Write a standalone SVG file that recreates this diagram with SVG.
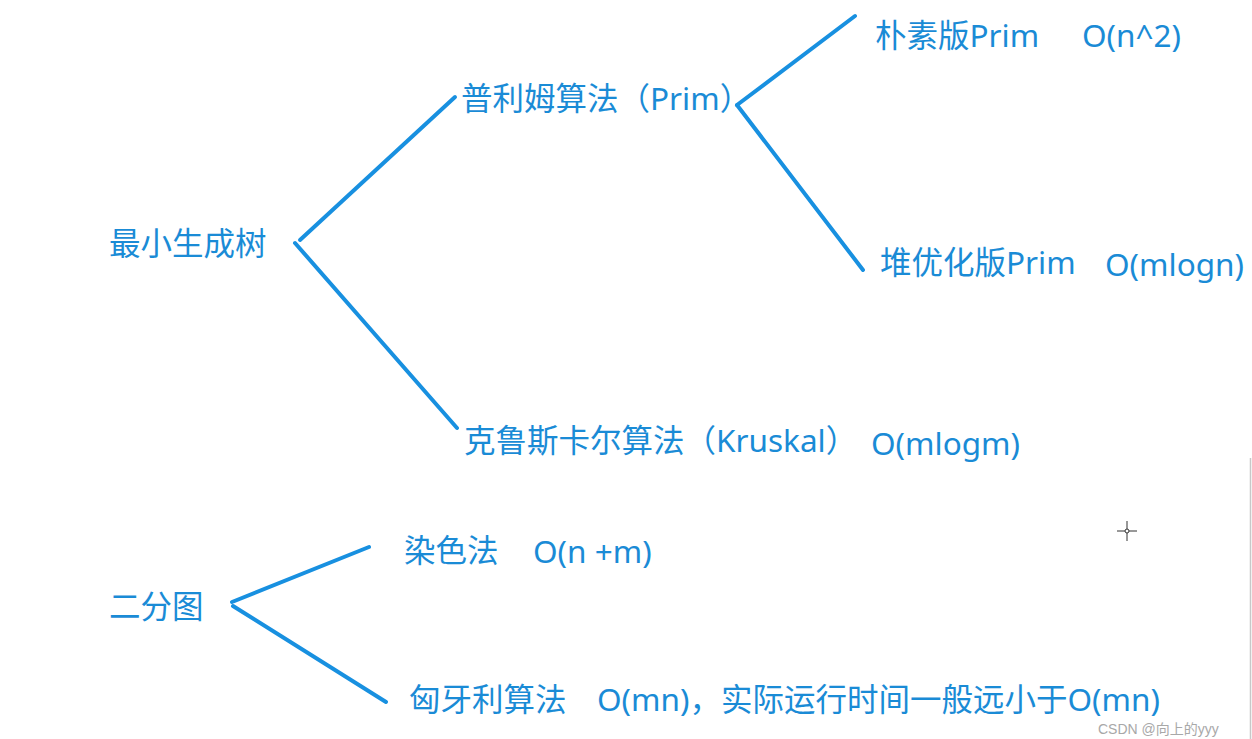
<svg xmlns="http://www.w3.org/2000/svg" width="1252" height="739" viewBox="0 0 1252 739">
<style>
.t{font-family:"Noto Sans","Noto Sans CJK SC",sans-serif;font-size:31.5px;fill:#1a8bd6}
.c{stroke:#1890e0;stroke-width:4;stroke-linecap:round;fill:none}
.w{font-family:"Liberation Sans","Noto Sans CJK SC",sans-serif;font-size:14px;fill:#a8a8a8}
</style>
<rect width="1252" height="739" fill="#ffffff"/>
<g id="connectors">
<line class="c" x1="300" y1="240" x2="455" y2="97"/>
<line class="c" x1="295" y1="243" x2="457" y2="428"/>
<line class="c" x1="737" y1="105" x2="855" y2="16"/>
<line class="c" x1="737" y1="105" x2="863" y2="270"/>
<line class="c" x1="232" y1="602" x2="369" y2="547"/>
<line class="c" x1="233" y1="606" x2="386" y2="702"/>
</g>
<g id="mst"><text class="t" x="109" y="255">最小生成树</text></g>
<g id="prim"><text class="t" x="461" y="110">普利姆算法（Prim）</text></g>
<g id="naive"><text class="t" x="875" y="47">朴素版Prim</text><text class="t" x="1082" y="47">O(n^2)</text></g>
<g id="heap"><text class="t" x="880" y="274">堆优化版Prim</text><text class="t" x="1105" y="276">O(mlogn)</text></g>
<g id="kruskal"><text class="t" x="464" y="452">克鲁斯卡尔算法（Kruskal）</text><text class="t" x="871" y="455">O(mlogm)</text></g>
<g id="bip"><text class="t" x="109" y="618">二分图</text></g>
<g id="color"><text class="t" x="404" y="562">染色法</text><text class="t" x="533" y="563">O(n +m)</text></g>
<g id="hung"><text class="t" x="409" y="711">匈牙利算法</text><text class="t" x="597" y="711">O(mn)，实际运行时间一般远小于O(mn)</text></g>
<g id="cursor" stroke="#333" stroke-width="1" fill="none">
<line x1="1127" y1="521" x2="1127" y2="541"/><line x1="1117" y1="531" x2="1137" y2="531"/><circle cx="1127" cy="531" r="2" fill="#fff"/>
</g>
<line x1="1250.5" y1="458" x2="1250.5" y2="739" stroke="#c8c8c8" stroke-width="1.5"/>
<text class="w" x="1098" y="734">CSDN @向上的yyy</text>
</svg>
